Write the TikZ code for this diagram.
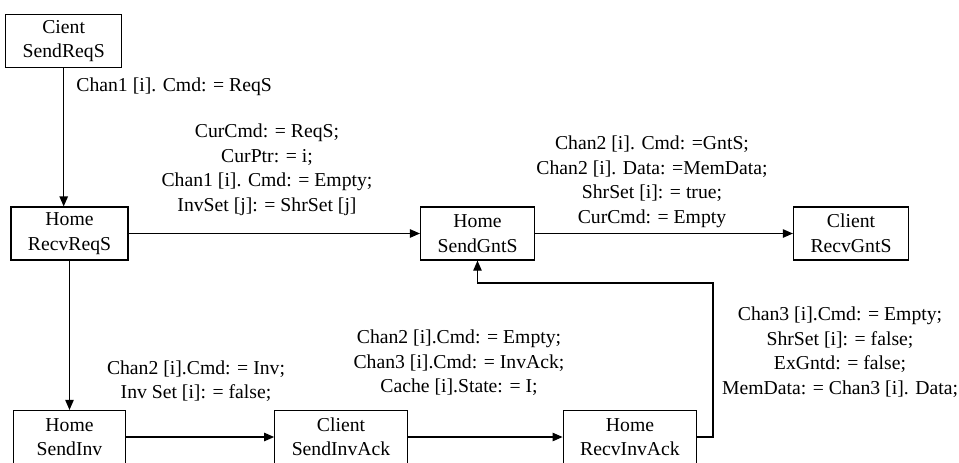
\documentclass[tikz,border=0pt]{standalone}
\usepackage{fontspec}
\setmainfont{Liberation Serif}
\usetikzlibrary{arrows.meta}

\begin{document}
\begin{tikzpicture}[x=0.5pt, y=-0.5pt,
  every node/.style={font=\fontsize{9.85}{12.25}\selectfont},
  box/.style={draw, line width=0.6pt, align=center, minimum width=56pt,
              minimum height=26.5pt, inner xsep=8.5pt, inner ysep=1pt},
  lab/.style={align=center, inner sep=0pt},
  arr/.style={line width=0.6pt, -{Triangle[length=5pt, width=4.2pt]}}]
  \useasboundingbox (0,0) rectangle (959,462);
  % states
  \node[box] (sendreqs)   at (63.7,41)    {Cient\\SendReqS};
  \node[box] (recvreqs)   at (69.5,233.5) {Home\\RecvReqS};
  \node[box] (sendgnts)   at (477.5,233.5) {Home\\SendGntS};
  \node[box] (recvgnts)   at (851,233.5)  {Client\\RecvGntS};
  \node[box] (sendinv)    at (69.5,437)   {Home\\SendInv};
  \node[box] (sendinvack) at (341,437)    {Client\\SendInvAck};
  \node[box] (recvinvack) at (630,437)    {Home\\RecvInvAck};
  % transitions
  \draw[arr] (sendreqs.south) -- (sendreqs.south |- recvreqs.north);
  \draw[arr] (recvreqs) -- (sendgnts);
  \draw[arr] (sendgnts) -- (recvgnts);
  \draw[arr] (recvreqs) -- (sendinv);
  \draw[arr] (sendinv) -- (sendinvack);
  \draw[arr] (sendinvack) -- (recvinvack);
  \coordinate (turn) at (713,283);
  \draw[arr] (recvinvack.east) -| (turn) -| (sendgnts.south);
  % actions
  \node[lab, anchor=west] (act1) at (76,87) {Chan1 [i]. Cmd: = ReqS};
  \node[lab] (act2) at (267,170)
    {CurCmd: = ReqS;\\CurPtr: = i;\\Chan1 [i]. Cmd: = Empty;\\InvSet [j]: = ShrSet [j]};
  \node[lab] (act3) at (652,182)
    {Chan2 [i]. Cmd: =GntS;\\Chan2 [i]. Data: =MemData;\\ShrSet [i]: = true;\\CurCmd: = Empty};
  \node[lab] (act4) at (196,381)
    {Chan2 [i].Cmd: = Inv;\\Inv Set [i]: = false;};
  \node[lab] (act5) at (459,363)
    {Chan2 [i].Cmd: = Empty;\\Chan3 [i].Cmd: = InvAck;\\Cache [i].State: = I;};
  \node[lab] (act6) at (840,352)
    {Chan3 [i].Cmd: = Empty;\\ShrSet [i]: = false;\\ExGntd: = false;\\MemData: = Chan3 [i]. Data;};
\end{tikzpicture}
\end{document}
